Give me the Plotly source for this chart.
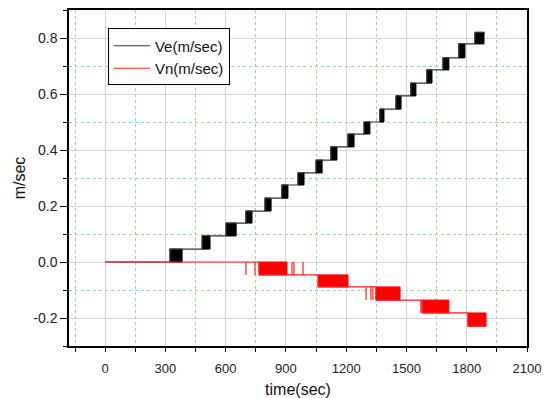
import plotly.graph_objects as go

# ---------------- data ----------------
# Ve (m/sec): staircase levels and the noisy transition blocks between them
ve_levels = [0.0, 0.046, 0.093, 0.139, 0.182, 0.228, 0.275, 0.318, 0.364, 0.411,
             0.457, 0.500, 0.546, 0.593, 0.639, 0.686, 0.729, 0.779, 0.820]
ve_block_start = [323, 483, 602, 701, 796, 880, 960, 1050, 1124, 1209,
                  1289, 1368, 1448, 1522, 1602, 1682, 1761, 1841]
ve_block_end = [383, 522, 652, 731, 826, 910, 990, 1080, 1154, 1239,
                1318, 1388, 1473, 1547, 1627, 1711, 1791, 1886]
ve_t_start = 0
ve_t_end = 1890

# Vn (m/sec): descending staircase, blocks and isolated spikes
vn_levels = [0.0, -0.046, -0.089, -0.136, -0.182, -0.229]
vn_block_start = [766, 1060, 1348, 1580, 1806]
vn_block_end = [905, 1209, 1468, 1711, 1896]
vn_t_start = 0
vn_t_end = 1898
vn_spike_times = [701, 746, 930, 940, 985, 1299, 1323, 1333, 1572, 1576]
vn_spike_step = [0, 0, 0, 0, 0, 2, 2, 2, 3, 3]

x_tick_vals = [0, 300, 600, 900, 1200, 1500, 1800, 2100]
x_tick_text = ["0", "300", "600", "900", "1200", "1500", "1800", "2100"]
y_tick_vals = [-0.2, 0.0, 0.2, 0.4, 0.6, 0.8]
y_tick_text = ["-0.2", "0.0", "0.2", "0.4", "0.6", "0.8"]


def step_line(levels, starts, ends, t0, t1):
    xs, ys = [t0], [levels[0]]
    for k in range(len(starts)):
        xs += [starts[k], starts[k], ends[k]]
        ys += [levels[k], levels[k + 1], levels[k + 1]]
    xs.append(t1)
    ys.append(levels[-1])
    return xs, ys


def blocks(levels, starts, ends):
    xs, ys = [], []
    for k in range(len(starts)):
        xs += [starts[k], ends[k], ends[k], starts[k], starts[k], None]
        ys += [levels[k], levels[k], levels[k + 1], levels[k + 1], levels[k], None]
    return xs, ys


def spikes(levels, times, steps):
    xs, ys = [], []
    for t, k in zip(times, steps):
        xs += [t, t, None]
        ys += [levels[k], levels[k + 1], None]
    return xs, ys


fig = go.Figure()

# Ve
bx, by = blocks(ve_levels, ve_block_start, ve_block_end)
fig.add_trace(go.Scatter(x=bx, y=by, mode="lines", fill="toself", fillcolor="black",
                         line=dict(color="black", width=1), showlegend=False,
                         hoverinfo="skip"))
lx, ly = step_line(ve_levels, ve_block_start, ve_block_end, ve_t_start, ve_t_end)
fig.add_trace(go.Scatter(x=lx, y=ly, mode="lines", name="Ve(m/sec)",
                         line=dict(color="#333333", width=1.2)))

# Vn
bx, by = blocks(vn_levels, vn_block_start, vn_block_end)
fig.add_trace(go.Scatter(x=bx, y=by, mode="lines", fill="toself", fillcolor="#ff0000",
                         line=dict(color="#ff0000", width=1), showlegend=False,
                         hoverinfo="skip"))
sx, sy = spikes(vn_levels, vn_spike_times, vn_spike_step)
fig.add_trace(go.Scatter(x=sx, y=sy, mode="lines", line=dict(color="#ff2020", width=1.2),
                         showlegend=False, hoverinfo="skip"))
lx, ly = step_line(vn_levels, vn_block_start, vn_block_end, vn_t_start, vn_t_end)
fig.add_trace(go.Scatter(x=lx, y=ly, mode="lines", name="Vn(m/sec)",
                         line=dict(color="#ff2020", width=1.2)))

font = "Arial, Liberation Sans, sans-serif"
fig.update_layout(
    width=548, height=398,
    margin=dict(l=69, r=21, t=10, b=52),
    paper_bgcolor="white", plot_bgcolor="white",
    font=dict(family=font, color="#222222"),
    legend=dict(x=0.085, y=0.945, xanchor="left", yanchor="top",
                bordercolor="black", borderwidth=1, bgcolor="white",
                font=dict(size=15, color="#111111"), itemwidth=36,
                tracegroupgap=0),
    xaxis=dict(
        range=[-180, 2100], tickvals=x_tick_vals, ticktext=x_tick_text,
        automargin=False,
        showline=True, linecolor="black", linewidth=1.5, mirror=True,
        ticks="outside", ticklen=4, tickcolor="black", tickwidth=1,
        ticklabelstandoff=6,
        showgrid=True, gridcolor="#d4d4d4", gridwidth=1, zeroline=False,
        tickfont=dict(size=13, color="#222222"),
        minor=dict(dtick=150, tick0=-150, ticks="outside", ticklen=4, tickcolor="black",
                   showgrid=True, gridcolor="#8ee08e", griddash="dot", gridwidth=1),
        title=dict(text="time(sec)", font=dict(size=16, color="#111111"), standoff=10),
    ),
    yaxis=dict(
        range=[-0.3, 0.9], tickvals=y_tick_vals, ticktext=y_tick_text,
        automargin=False,
        showline=True, linecolor="black", linewidth=1.5, mirror=True,
        ticks="outside", ticklen=7, tickcolor="black", tickwidth=1,
        showgrid=True, gridcolor="#d4d4d4", gridwidth=1, zeroline=False,
        tickfont=dict(size=14, color="#222222"),
        minor=dict(dtick=0.1, tick0=-0.3, ticks="outside", ticklen=4, tickcolor="black",
                   showgrid=True, gridcolor="#8ee08e", griddash="dot", gridwidth=1),
        title=dict(text="m/sec", font=dict(size=16, color="#111111"), standoff=4),
    ),
)

fig.write_html("out.html")
